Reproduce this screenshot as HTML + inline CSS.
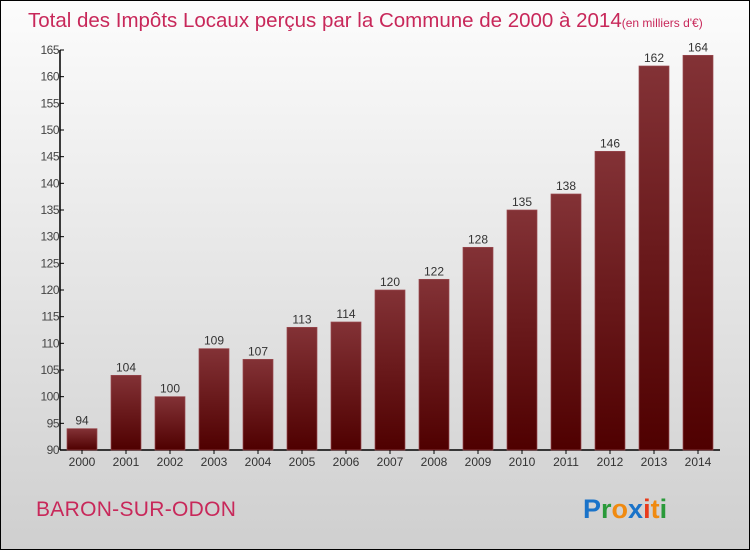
<!DOCTYPE html>
<html><head><meta charset="utf-8"><style>
html,body{margin:0;padding:0}
body{width:750px;height:550px;overflow:hidden;font-family:"Liberation Sans",sans-serif}
#wrap{position:absolute;left:0;top:0;width:748px;height:548px;border:1px solid #000;background:linear-gradient(#fcfcfc,#cfcfcf)}
</style></head><body>
<div id="wrap">
<svg id="chart" width="748" height="548">
<defs><linearGradient id="bg" x1="0" y1="0" x2="0" y2="1"><stop offset="0" stop-color="#833236"/><stop offset="1" stop-color="#4f0000"/></linearGradient></defs>
<text x="27" y="26" font-size="20.5" fill="#c8285a">Total des Impôts Locaux perçus par la Commune de 2000 à 2014<tspan font-size="12">(en milliers d'€)</tspan></text>
<text x="35" y="515" font-size="21" letter-spacing="0.3" fill="#c8285a">BARON-SUR-ODON</text>
<text x="582" y="517" font-size="27" font-weight="bold"><tspan fill="#1a73c9">P</tspan><tspan fill="#2a9a3a">r</tspan><tspan fill="#f08a10">o</tspan><tspan fill="#1a73c9">x</tspan><tspan fill="#e83a1a">i</tspan><tspan fill="#f08a10">t</tspan><tspan fill="#2a9a3a">i</tspan></text>
<g id="plot"></g>
</svg>
</div>
<script>
const years=["2000","2001","2002","2003","2004","2005","2006","2007","2008","2009","2010","2011","2012","2013","2014"];
const values=[94,104,100,109,107,113,114,120,122,128,135,138,146,162,164];
const ticks=[90,95,100,105,110,115,120,125,130,135,140,145,150,155,160,165];
const NS="http://www.w3.org/2000/svg";
const g=document.getElementById('plot');
const x0=59,band=44,yMin=90,yMax=165,yTop=49,yBot=449;
const y=v=>yBot-(v-yMin)/(yMax-yMin)*(yBot-yTop);
const xc=i=>x0+band*i+band/2;
function mk(t,a){const e=document.createElementNS(NS,t);for(const k in a)e.setAttribute(k,a[k]);g.appendChild(e);return e;}
const ax=mk('line',{x1:x0,y1:yTop,x2:x0,y2:yBot,stroke:'#000','stroke-width':1.5});


const bx=mk('line',{x1:x0,y1:yBot,x2:x0+band*years.length,y2:yBot,stroke:'#000','stroke-width':1.5});


ticks.forEach(t=>{
 mk('line',{x1:x0,y1:y(t),x2:x0+4,y2:y(t),stroke:'#000'});
 const tx=mk('text',{x:x0-1,y:y(t)+4,'font-size':12,fill:'#444','text-anchor':'end','letter-spacing':'-0.5'});
 tx.textContent=t;
 
 
});
years.forEach((yr,i)=>{
 const v=values[i];
 const r=mk('rect',{x:xc(i)-15,y:y(v),width:30,height:yBot-y(v),fill:'url(#bg)',stroke:'#9a4a50','stroke-width':0.7});
 
 
 mk('line',{x1:xc(i),y1:yBot,x2:xc(i),y2:yBot+4,stroke:'#000'});
 const vl=mk('text',{x:xc(i),y:y(v)-4,'font-size':12,fill:'#333','text-anchor':'middle'});
 vl.textContent=v;
 
 
 const xl=mk('text',{x:xc(i),y:yBot+16,'font-size':12,fill:'#333','text-anchor':'middle'});
 xl.textContent=yr;
 
 
});
</script>
</body></html>
